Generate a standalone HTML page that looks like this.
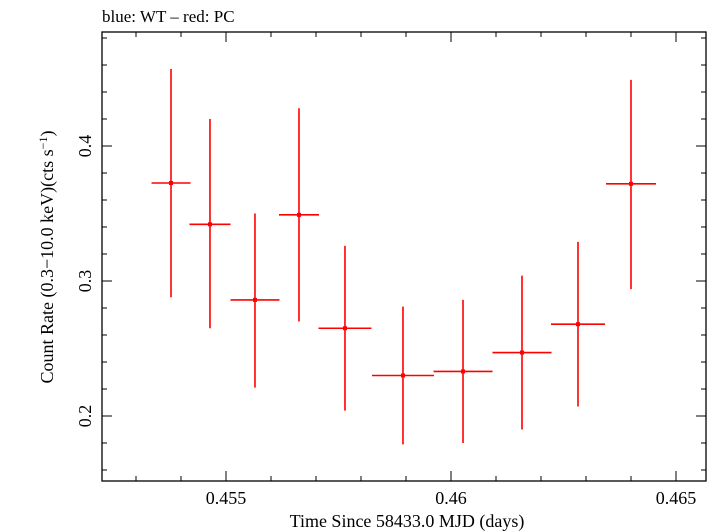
<!DOCTYPE html>
<html><head><meta charset="utf-8"><style>
body{margin:0;background:#fff;}
svg{display:block;font-family:"Liberation Serif",serif;}
</style></head><body>
<svg id="chart" width="714" height="532">
<text x="102" y="22" font-size="17">blue: WT – red: PC</text>
<rect x="102" y="32" width="604" height="449" fill="none" stroke="#000" stroke-width="1.3"/>
<g id="axes"></g>
<g id="marks"></g>
<text x="407" y="527" font-size="18" text-anchor="middle">Time Since 58433.0 MJD (days)</text>
<text transform="translate(53,257) rotate(-90)" font-size="18" text-anchor="middle">Count Rate (0.3−10.0 keV)(cts s<tspan dy="-6" font-size="12">−1</tspan><tspan dy="6">)</tspan></text>
</svg>
<script>
const times=[0.453778,0.454644,0.455644,0.456622,0.457644,0.458933,0.460267,0.461578,0.462822,0.464000];
const halfWidths=[0.000433,0.000456,0.000544,0.000444,0.000589,0.000689,0.000656,0.000656,0.000600,0.000556];
const rates=[0.3726,0.342,0.286,0.349,0.265,0.230,0.233,0.247,0.268,0.372];
const errHigh=[0.457,0.420,0.350,0.428,0.326,0.281,0.286,0.304,0.329,0.449];
const errLow=[0.288,0.265,0.221,0.270,0.204,0.179,0.180,0.190,0.207,0.294];
const xTickLabels=["0.455","0.46","0.465"];
const yTickLabels=["0.2","0.3","0.4"];
const NS="http://www.w3.org/2000/svg";
const L=102,R=706,T=32,B=481;
const xs=v=>226+(v-0.455)*45000;
const ys=v=>146+(0.4-v)*1350;
function mk(tag,attrs,parent){const e=document.createElementNS(NS,tag);for(const k in attrs)e.setAttribute(k,attrs[k]);parent.appendChild(e);return e;}
const ax=document.getElementById('axes');
for(let i=0;i<=14;i++){const v=0.453+i*0.001;const x=xs(v);if(x<L||x>R)continue;
 const m=Math.round(v*1000)%5;
 const len=m===0?10:5;
 const t1=mk('line',{x1:x,x2:x,y1:B,y2:B-len,stroke:'#000','stroke-width':1},ax);
 
 
 const t2=mk('line',{x1:x,x2:x,y1:T,y2:T+len,stroke:'#000','stroke-width':1},ax);
 
 
}
xTickLabels.forEach(s=>{const t=mk('text',{x:xs(parseFloat(s)),y:504,'font-size':18,'text-anchor':'middle'},ax);t.textContent=s;
 
 });
for(let i=0;i<=20;i++){const v=0.14+i*0.02;const y=ys(v);if(y<T||y>B)continue;
 const major=Math.abs(Math.round(v*10)-v*10)<1e-6;const len=major?10:5;
 const a=mk('line',{x1:L,x2:L+len,y1:y,y2:y,stroke:'#000','stroke-width':1},ax);
 
 
 const b=mk('line',{x1:R,x2:R-len,y1:y,y2:y,stroke:'#000','stroke-width':1},ax);
 
 
}
yTickLabels.forEach(s=>{const y=ys(parseFloat(s));const t=mk('text',{transform:`translate(91,${y}) rotate(-90)`,'font-size':18,'text-anchor':'middle'},ax);t.textContent=s;
 
 });
const mg=document.getElementById('marks');
times.forEach((t,i)=>{
 const g=mk('g',{},mg);
 
 
 mk('line',{x1:xs(t-halfWidths[i]),x2:xs(t+halfWidths[i]),y1:ys(rates[i]),y2:ys(rates[i]),stroke:'#f00','stroke-width':1.6},g);
 mk('line',{x1:xs(t),x2:xs(t),y1:ys(errHigh[i]),y2:ys(errLow[i]),stroke:'#f00','stroke-width':1.6},g);
 mk('rect',{x:xs(t)-2,y:ys(rates[i])-2,width:4,height:4,fill:'#f00'},g);
});
</script>
</body></html>
